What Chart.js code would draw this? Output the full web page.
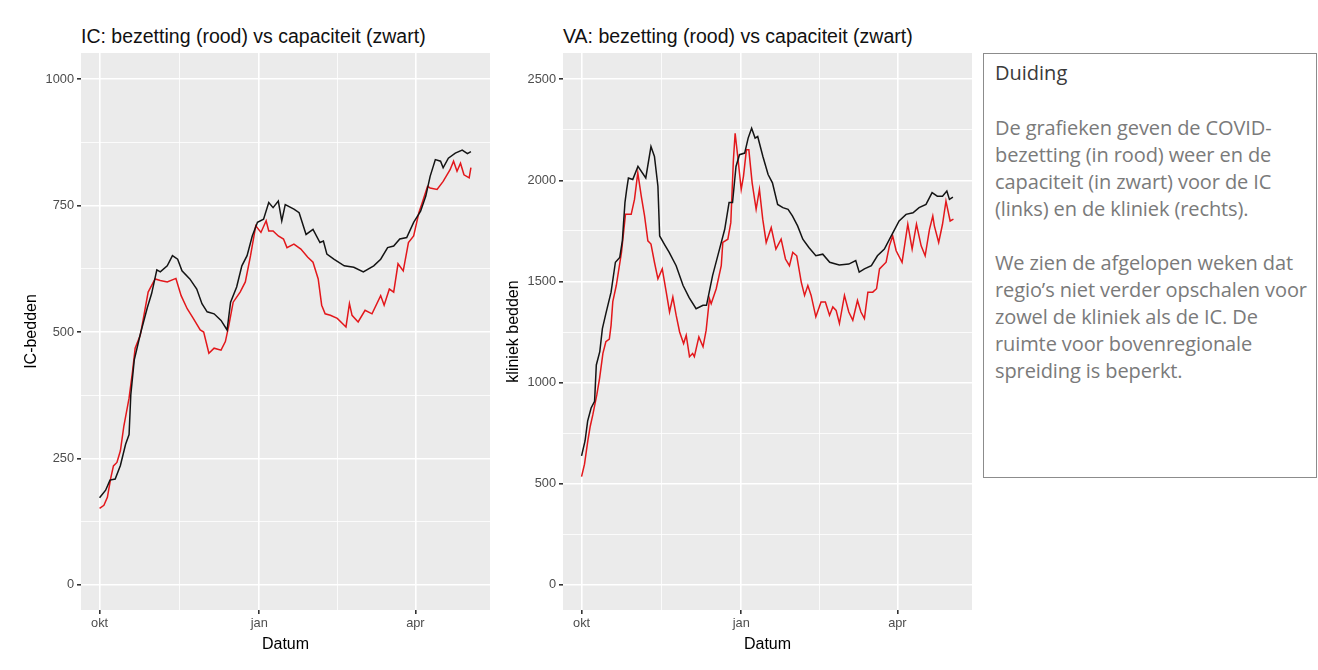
<!DOCTYPE html>
<html>
<head>
<meta charset="utf-8">
<script src="https://cdn.jsdelivr.net/npm/chart.js@4.4.1/dist/chart.umd.min.js"></script>
<style>
    body { margin: 0; background: #fff; width: 1318px; height: 670px; overflow: hidden; position: relative; font-family: "Liberation Sans", Arial, sans-serif; }
    canvas { position: absolute; top: 0; }
    .plot-title { position: absolute; top: 26px; font-size: 19.5px; line-height: 20px; color: #111; white-space: nowrap; }
    .duiding { position: absolute; left: 983px; top: 53px; width: 334px; height: 425px; box-sizing: border-box; border: 1.5px solid #8c8c8c; padding: 6px 0 0 11px; font-family: "Open Sans", sans-serif; white-space: nowrap; }
    .duiding h3 { margin: 0; font-size: 20px; font-weight: 400; color: #3a3a3a; line-height: 26px; }
    .duiding p { margin: 0; font-size: 20px; color: #7a7a7a; line-height: 27px; letter-spacing: -0.1px; }
</style>
</head>
<body>
<div class="plot-title" style="left:81px">IC: bezetting (rood) vs capaciteit (zwart)</div>
<div class="plot-title" style="left:563px">VA: bezetting (rood) vs capaciteit (zwart)</div>
<canvas id="icChart" width="500" height="670" style="left:0"></canvas>
<canvas id="vaChart" width="492" height="670" style="left:490px"></canvas>
<div class="duiding">
    <h3>Duiding</h3>
    <p style="margin-top:28px">De grafieken geven de COVID-<br>bezetting (in rood) weer en de<br>capaciteit (in zwart) voor de IC<br>(links) en de kliniek (rechts).</p>
    <p style="margin-top:27px">We zien de afgelopen weken dat<br>regio’s niet verder opschalen voor<br>zowel de kliniek als de IC. De<br>ruimte voor bovenregionale<br>spreiding is beperkt.</p>
</div>
<script>
// x = days since 1 oktober
const monthDays = [0, 92, 182];
const monthLabels = ['okt', 'jan', 'apr'];
const minorDays = [46, 137];

const icYTicks = [0, 250, 500, 750, 1000];
const vaYTicks = [0, 500, 1000, 1500, 2000, 2500];

// IC capaciteit (zwart)
const icCapDays = [0, 3.5, 6, 9, 12, 15, 17, 18, 20, 23.5, 27.5, 30, 33, 35, 39, 42, 45, 47.5, 52, 56, 59, 62, 66, 70, 73.5, 75.5, 79, 82, 85, 88, 91, 94.5, 97.5, 100, 103, 105, 107, 112, 115, 119, 123, 127, 129, 131, 135, 141, 146.5, 152, 158, 162, 166, 169.5, 173, 177, 181, 185, 188, 190.5, 193.5, 196.5, 198, 201, 205, 209, 212, 214];
const icCap = [172, 187, 207, 209, 236, 278, 297, 376, 445, 496, 548, 576, 623, 619, 631, 651, 644, 621, 605, 585, 556, 540, 536, 523, 504, 559, 589, 631, 651, 690, 717, 723, 756, 746, 759, 720, 752, 743, 736, 693, 703, 677, 680, 654, 644, 631, 628, 619, 631, 644, 667, 670, 684, 687, 717, 739, 769, 808, 841, 838, 825, 844, 854, 860, 853, 857];

// IC bezetting (rood)
const icOccDays = [0, 2.5, 4.5, 6.5, 8, 10, 12, 14, 17, 19, 20.5, 23.5, 28, 32, 35, 39, 44, 47, 50.5, 54, 58, 60, 63, 66, 70, 72.5, 74.5, 77, 81, 84, 87, 90, 93, 96, 97.5, 100, 103, 106, 108, 112, 116, 120, 123, 126, 128, 130, 133, 137, 142, 144, 145.5, 149, 153, 157, 162, 164, 167, 169.5, 172, 175, 178, 181, 184, 186, 189, 190.5, 194.5, 198, 202, 204, 206, 208, 210, 213, 214];
const icOcc = [151, 157, 173, 212, 235, 242, 265, 314, 369, 422, 468, 494, 579, 605, 602, 599, 606, 572, 546, 527, 504, 500, 458, 468, 464, 481, 513, 559, 579, 599, 651, 710, 697, 720, 700, 700, 690, 684, 667, 674, 664, 648, 638, 605, 553, 536, 533, 527, 510, 556, 533, 520, 543, 536, 572, 553, 585, 579, 635, 621, 677, 690, 736, 756, 788, 785, 782, 798, 821, 838, 818, 834, 811, 805, 825];

// VA capaciteit (zwart)
const vaCapDays = [0, 2, 3.5, 5.5, 7.5, 8.5, 10.5, 12, 14, 17, 19.5, 22, 23.5, 25, 26, 27, 29.5, 32.5, 37, 40, 42, 44, 45, 48, 50.5, 54.5, 58.5, 62, 66, 70, 72, 75.5, 79.5, 82.5, 85, 87, 89, 91, 94, 96, 98, 100, 101.5, 104.5, 107.5, 110, 113, 116, 119, 121.5, 124.5, 127.5, 131, 135, 139, 143, 148.5, 154, 158, 160, 163, 167, 170.5, 174.5, 179, 183, 187, 191, 194.5, 198.5, 202, 205, 208, 210.5, 212, 214];
const vaCap = [637, 711, 809, 874, 907, 1087, 1153, 1267, 1341, 1447, 1595, 1619, 1701, 1890, 1955, 2012, 2004, 2069, 2012, 2167, 2118, 1971, 1725, 1680, 1644, 1578, 1480, 1420, 1365, 1382, 1382, 1529, 1660, 1758, 1890, 1890, 2069, 2127, 2135, 2209, 2258, 2209, 2217, 2118, 2029, 1988, 1881, 1865, 1857, 1824, 1775, 1709, 1668, 1627, 1635, 1595, 1582, 1586, 1603, 1546, 1562, 1578, 1627, 1660, 1734, 1799, 1832, 1840, 1865, 1881, 1939, 1922, 1922, 1947, 1906, 1917];

// VA bezetting (rood)
const vaOccDays = [0, 1.7, 3.6, 5, 6.5, 8.8, 10.4, 12.3, 14, 16, 17, 18, 20, 23, 25.3, 28.6, 30.5, 32.4, 34.4, 36.3, 38.2, 40, 42, 44, 46.5, 48.8, 50.7, 52.6, 54.5, 56.5, 58.8, 60.3, 62.2, 64, 65, 67.6, 70, 71.8, 73.7, 74.7, 77.6, 80.5, 81.4, 84.3, 86, 87.5, 88.5, 90, 92, 93.3, 95, 96.4, 98.3, 100.6, 102.5, 104.4, 106.4, 109.3, 112, 115, 117.5, 119.8, 121.7, 124, 126.6, 128.5, 130.4, 132.3, 135, 138, 140.5, 142.9, 144.8, 146.7, 148.6, 151.5, 154, 156.3, 159, 161, 163, 165, 167.8, 170, 171.7, 175.5, 177.4, 179.3, 181.3, 184.7, 188, 190.5, 193, 195.7, 198, 200.5, 202.4, 203.3, 205.8, 208, 210, 212.4, 214.3];
const vaOcc = [535, 596, 711, 784, 841, 940, 1022, 1144, 1202, 1215, 1283, 1400, 1480, 1644, 1832, 1832, 1906, 2037, 1922, 1824, 1701, 1685, 1595, 1513, 1562, 1447, 1349, 1423, 1333, 1250, 1193, 1234, 1128, 1144, 1128, 1226, 1177, 1259, 1415, 1390, 1464, 1578, 1693, 1709, 1791, 2102, 2233, 2118, 1955, 2020, 2151, 2151, 1988, 1857, 1955, 1808, 1693, 1767, 1660, 1709, 1611, 1578, 1644, 1627, 1497, 1431, 1480, 1431, 1325, 1398, 1398, 1333, 1374, 1357, 1292, 1431, 1349, 1308, 1406, 1349, 1316, 1447, 1447, 1464, 1562, 1595, 1676, 1725, 1652, 1595, 1783, 1660, 1783, 1676, 1627, 1758, 1824, 1775, 1693, 1783, 1897, 1799, 1808];

Chart.defaults.font.family = '"Liberation Sans", Arial, sans-serif';
Chart.defaults.animation = false;

// grey ggplot panel behind the lines
const panelBg = {
    id: 'panelBg',
    beforeDraw(chart) {
        const a = chart.chartArea;
        chart.ctx.save();
        chart.ctx.fillStyle = '#ebebeb';
        chart.ctx.fillRect(a.left, a.top, a.right - a.left, a.bottom - a.top);
        chart.ctx.restore();
    }
};

function toPoints(days, vals) {
    return days.map((d, i) => ({ x: d, y: vals[i] }));
}

function makeChart(id, opts) {
    const yMajors = opts.yTicks;
    const step = yMajors[1] - yMajors[0];
    const yAll = [];
    yMajors.forEach(v => { yAll.push(v); yAll.push(v + step / 2); });
    const xMajorSet = new Set(monthDays);

    return new Chart(document.getElementById(id).getContext('2d'), {
        type: 'line',
        data: {
            datasets: [
                { data: toPoints(opts.capDays, opts.cap), borderColor: '#141414', borderWidth: 1.5, pointRadius: 0, tension: 0 },
                { data: toPoints(opts.occDays, opts.occ), borderColor: '#e3171b', borderWidth: 1.5, pointRadius: 0, tension: 0 }
            ]
        },
        options: {
            responsive: false,
            layout: { padding: { left: opts.padLeft, top: 53, right: opts.padRight, bottom: 12 } },
            plugins: { legend: { display: false }, tooltip: { enabled: false } },
            scales: {
                x: {
                    type: 'linear', min: -10.7, max: 225,
                    afterBuildTicks: s => { s.ticks = monthDays.concat(minorDays).sort((a, b) => a - b).map(v => ({ value: v })); },
                    afterFit: s => { s.height = 48; },
                    border: { display: false },
                    grid: {
                        color: '#ffffff',
                        lineWidth: c => xMajorSet.has(c.tick.value) ? 1.6 : 0.8,
                        tickLength: 4,
                        tickColor: c => xMajorSet.has(c.tick.value) ? '#333333' : 'rgba(0,0,0,0)'
                    },
                    ticks: {
                        autoSkip: false, maxRotation: 0, padding: 2, color: '#4d4d4d', font: { size: 12.8 },
                        callback: v => { const i = monthDays.indexOf(v); return i >= 0 ? monthLabels[i] : ''; }
                    },
                    title: { display: true, text: 'Datum', color: '#000', font: { size: 16 }, padding: { top: 0, bottom: 4 } }
                },
                y: {
                    min: opts.yMin, max: opts.yMax,
                    afterBuildTicks: s => { s.ticks = yAll.filter(v => v >= opts.yMin && v <= opts.yMax).map(v => ({ value: v })); },
                    afterFit: s => { s.width = opts.yWidth; },
                    border: { display: false },
                    grid: {
                        color: '#ffffff',
                        lineWidth: c => yMajors.includes(c.tick.value) ? 1.6 : 0.8,
                        tickLength: 4,
                        tickColor: c => yMajors.includes(c.tick.value) ? '#333333' : 'rgba(0,0,0,0)'
                    },
                    ticks: {
                        padding: 3, color: '#4d4d4d', font: { size: 12.8 },
                        callback: v => yMajors.includes(v) ? String(v) : ''
                    },
                    title: { display: true, text: opts.yTitle, color: '#000', font: { size: 16 }, padding: { top: 0, bottom: 4 } }
                }
            }
        },
        plugins: [panelBg]
    });
}

const icChart = makeChart('icChart', {
    capDays: icCapDays, cap: icCap, occDays: icOccDays, occ: icOcc,
    yTicks: icYTicks, yMin: -50, yMax: 1052, yTitle: 'IC-bedden',
    padLeft: 22, padRight: 10, yWidth: 59
});

const vaChart = makeChart('vaChart', {
    capDays: vaCapDays, cap: vaCap, occDays: vaOccDays, occ: vaOcc,
    yTicks: vaYTicks, yMin: -125, yMax: 2630, yTitle: 'kliniek bedden',
    padLeft: 14, padRight: 10, yWidth: 59
});
</script>
</body>
</html>
